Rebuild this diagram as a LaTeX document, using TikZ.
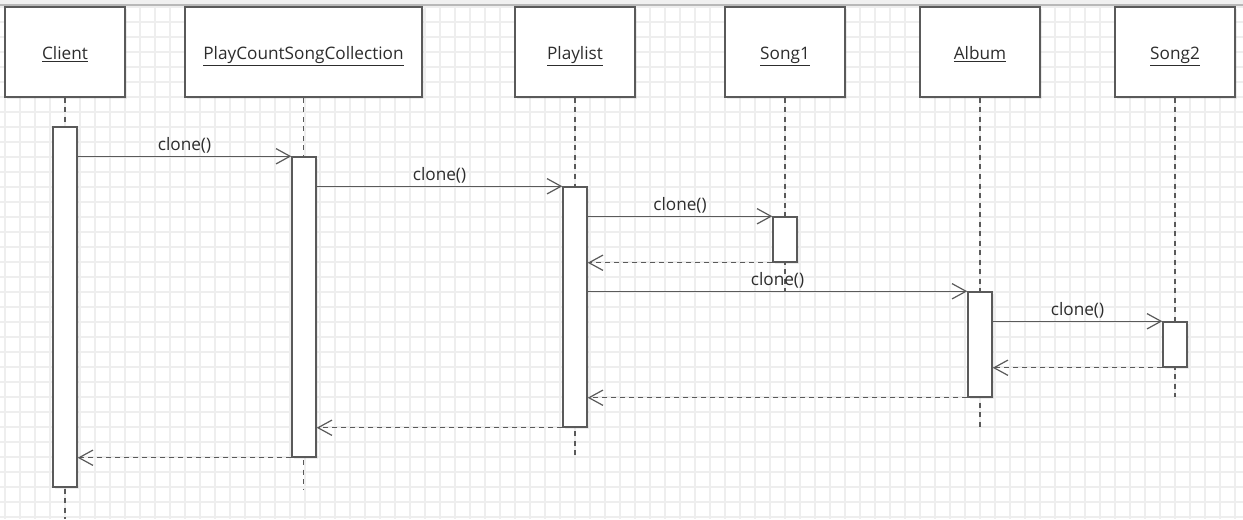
\documentclass[tikz,border=0pt]{standalone}
\usepackage{fontspec}
\setmainfont{Open Sans}
\usetikzlibrary{arrows.meta,shadows}
\definecolor{gridc}{RGB}{238,238,238}
\definecolor{linec}{RGB}{90,90,90}
\definecolor{txtc}{RGB}{45,45,45}
\newcommand{\ulname}[1]{\raisebox{-5.25pt}[0pt][0pt]{\underline{#1}}}
\begin{document}
\begin{tikzpicture}[x=0.75pt,y=-0.75pt,
  font=\fontsize{12.9pt}{15pt}\selectfont,
  obj/.style={draw=linec,line width=1.1pt,fill=white,minimum width=90pt,minimum height=67.5pt,text=txtc,
    drop shadow={shadow xshift=1.5pt,shadow yshift=-1.5pt,opacity=0.15}},
  actbox/.style={draw=linec,line width=1.1pt,fill=white,minimum width=18pt,inner sep=0pt,
    drop shadow={shadow xshift=1.5pt,shadow yshift=-1.5pt,opacity=0.15}},
  life/.style={draw=linec,line width=0.9pt,dash pattern=on 3.75pt off 3.4pt},
  msg/.style={draw=linec,line width=0.9pt,-{Straight Barb[length=10.5pt,width=11.5pt,line width=0.9pt]}},
  ret/.style={msg,dash pattern=on 3.75pt off 3pt},
  lbl/.style={midway,above,inner sep=2pt,text=txtc}]
\useasboundingbox (0,0) rectangle (1243,519);
\fill[white] (0,0) rectangle (1243,519);
% grid
\foreach \gx in {5,20,...,1243} \draw[gridc,line width=1pt] (\gx,0) -- (\gx,519);
\foreach \gy in {7,22,...,519} \draw[gridc,line width=1pt] (0,\gy) -- (1243,\gy);
% top band
\fill[black!6] (0,0) rectangle (1243,4.5);
\draw[black!28,line width=1pt] (0,5) -- (1243,5);
% objects
\node[obj] (client) at (65,52) {\ulname{Client}};
\node[obj,minimum width=177.75pt] (pcsc) at (303.5,52) {\ulname{PlayCountSongCollection}};
\node[obj] (playlist) at (575,52) {\ulname{Playlist}};
\node[obj] (song1) at (785,52) {\ulname{Song1}};
\node[obj] (album) at (980,52) {\ulname{Album}};
\node[obj] (song2) at (1175,52) {\ulname{Song2}};
% lifeline ends
\coordinate (eC) at (65,519);
\coordinate (eP) at (304,490);
\coordinate (eL) at (575,455);
\coordinate (eS1) at (785,292);
\coordinate (eA) at (980,427);
\coordinate (eS2) at (1175,397);
\draw[life] (client.south) -- (eC);
\draw[life] (pcsc.south) -- (pcsc.south |- eP);
\draw[life] (playlist.south) -- (eL);
\draw[life] (song1.south) -- (eS1);
\draw[life] (album.south) -- (eA);
\draw[life] (song2.south) -- (eS2);
% activations
\node[actbox,minimum height=270pt] (aC) at (65,307) {};
\node[actbox,minimum height=225pt] (aP) at (304,307) {};
\node[actbox,minimum height=180pt] (aL) at (575,307) {};
\node[actbox,minimum height=33.75pt] (aS1) at (785,239.5) {};
\node[actbox,minimum height=78.75pt] (aA) at (980,344.5) {};
\node[actbox,minimum height=33.75pt] (aS2) at (1175,344.5) {};
% messages
\draw[msg] (aC.east |- aP.north) -- node[lbl] {clone()} (aP.north west);
\draw[msg] (aP.east |- aL.north) -- node[lbl] {clone()} (aL.north west);
\draw[msg] (aL.east |- aS1.north) -- node[lbl] {clone()} (aS1.north west);
\draw[ret] (aS1.south west) -- (aL.east |- aS1.south);
\draw[msg] (aL.east |- aA.north) -- node[lbl] {clone()} (aA.north west);
\draw[msg] (aA.east |- aS2.north) -- node[lbl] {clone()} (aS2.north west);
\draw[ret] (aS2.south west) -- (aA.east |- aS2.south);
\draw[ret] (aA.south west) -- (aL.east |- aA.south);
\draw[ret] (aL.south west) -- (aP.east |- aL.south);
\draw[ret] (aP.south west) -- (aC.east |- aP.south);
\end{tikzpicture}
\end{document}
